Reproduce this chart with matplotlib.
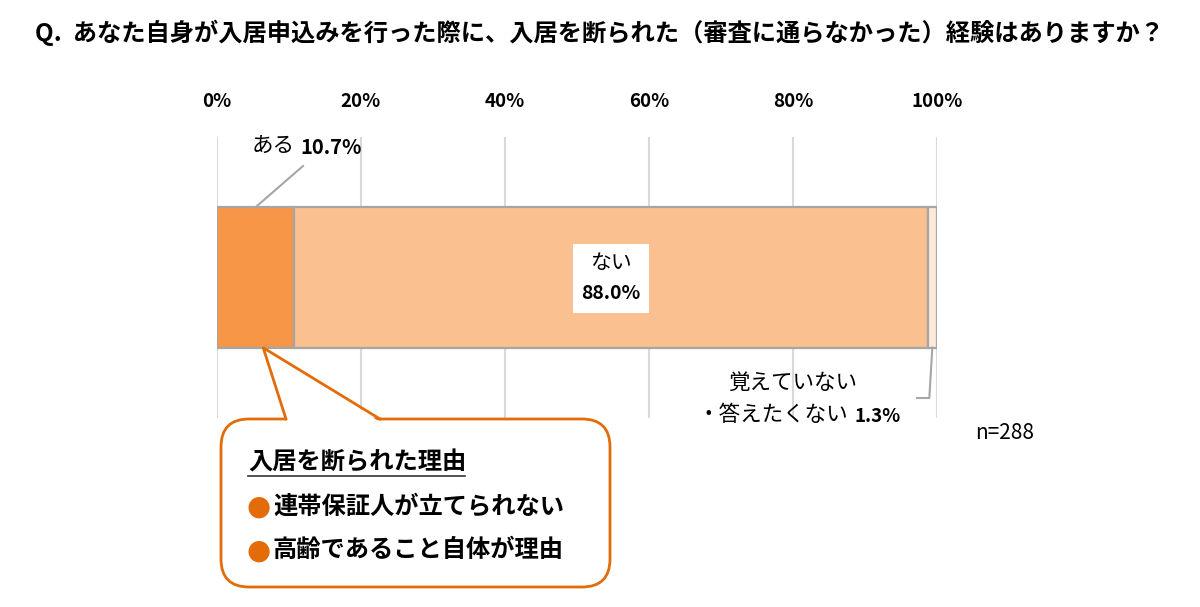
import matplotlib.pyplot as plt
from matplotlib.patches import FancyBboxPatch, Polygon, Rectangle

plt.rcParams['font.family'] = ['Noto Sans CJK JP', 'DejaVu Sans']

# data
question = 'Q.  あなた自身が入居申込みを行った際に、入居を断られた（審査に通らなかった）経験はありますか？'
answers = ['ある', 'ない', '覚えていない\n・答えたくない']
shares = [10.7, 88.0, 1.3]
ticks = [0, 20, 40, 60, 80, 100]
reasons_title = '入居を断られた理由'
reasons = ['連帯保証人が立てられない', '高齢であること自体が理由']
n_total = 288

colors = ['#F79646', '#FAC090', '#FDE9D9']
edge = '#A6A6A6'
orange = '#E36C09'

W, H = 1200, 607
fig = plt.figure(figsize=(W / 100, H / 100), dpi=100)
ax = fig.add_axes([217 / W, 1 - 418 / H, 720 / W, 281 / H])

left = 0
starts = []
for share, c in zip(shares, colors):
    starts.append(left)
    ax.barh(0.5, share, left=left, height=0.5, color=c,
            edgecolor=edge, linewidth=1.6, zorder=2)
    left += share
centers = [s + v / 2 for s, v in zip(starts, shares)]

ax.set_xlim(0, 100)
ax.set_ylim(0, 1)
ax.set_xticks(ticks)
ax.set_xticklabels([f'{t}%' for t in ticks], fontweight='bold', fontsize=13.5)
ax.xaxis.tick_top()
ax.tick_params(axis='x', length=0, pad=19)
ax.set_yticks([])
ax.grid(axis='x', color='#D9D9D9', linewidth=1.5, zorder=0)
for s in ax.spines.values():
    s.set_visible(False)

# overlay in pixel coords (y down)
ov = fig.add_axes([0, 0, 1, 1], zorder=5)
ov.set_xlim(0, W)
ov.set_ylim(H, 0)
ov.axis('off')


def anchor(x, y):
    d = ax.transData.transform((x, y))
    return d[0], H - d[1]


fig.text(35 / W, 1 - 33 / H, question, fontsize=17.5, fontweight='bold',
         va='center', ha='left')

# ある
ax0 = anchor(centers[0], 0.75)
ov.plot([ax0[0], 303], [ax0[1], 166], color=edge, lw=1.5)
ov.text(252, 146, answers[0], fontsize=15.5, va='center', ha='left')
ov.text(300, 147, f'{shares[0]}%', fontsize=14.5, fontweight='bold', va='center', ha='left')

# ない
cx, cy = anchor(centers[1], 0.5)
ov.add_patch(Rectangle((cx - 38, cy - 34), 76, 69, fc='white', ec='none', zorder=3))
ov.text(cx, cy - 15, answers[1], fontsize=15, va='center', ha='center', zorder=4)
ov.text(cx, cy + 16, f'{shares[1]}%', fontsize=14, fontweight='bold',
        va='center', ha='center', zorder=4)

# 覚えていない・答えたくない
lx, ly = anchor(centers[2], 0.25)
ov.plot([lx, lx - 3, 917], [ly, 398, 398], color=edge, lw=1.5)
line1, line2 = answers[2].split('\n')
ov.text(793, 383, line1, fontsize=15.5, va='center', ha='center')
ov.text(697, 415, line2, fontsize=15.5, va='center', ha='left')
ov.text(855, 416, f'{shares[2]}%', fontsize=13.5, fontweight='bold', va='center', ha='left')

ov.text(975, 433, f'n={n_total}', fontsize=15, va='center', ha='left')

# callout
ov.add_patch(FancyBboxPatch((221, 419), 389, 168,
                            boxstyle='round,pad=0,rounding_size=28',
                            fc='white', ec=orange, lw=2, zorder=2))
tip = anchor(starts[0] + shares[0] * 0.6, 0.25)
ov.add_patch(Polygon([(286, 422), tip, (380, 422)], closed=True,
                     fc='white', ec='none', zorder=3))
ov.plot([286, tip[0], 380], [419, tip[1], 419], color=orange, lw=2, zorder=4)

ov.text(248, 462, reasons_title, fontsize=17.5, fontweight='bold',
        va='center', ha='left', zorder=5)
ov.plot([248, 465], [476, 476], color='#333333', lw=1.2, zorder=5)
for i, r in enumerate(reasons):
    y = 506 + i * 44
    ov.text(246, y + 1, '●', fontsize=20, color=orange, va='center', ha='left',
            family=['DejaVu Sans'], zorder=5)
    ov.text(273, y, r, fontsize=17.5, fontweight='bold', va='center', ha='left', zorder=5)

fig.savefig('out.png', dpi=100)
